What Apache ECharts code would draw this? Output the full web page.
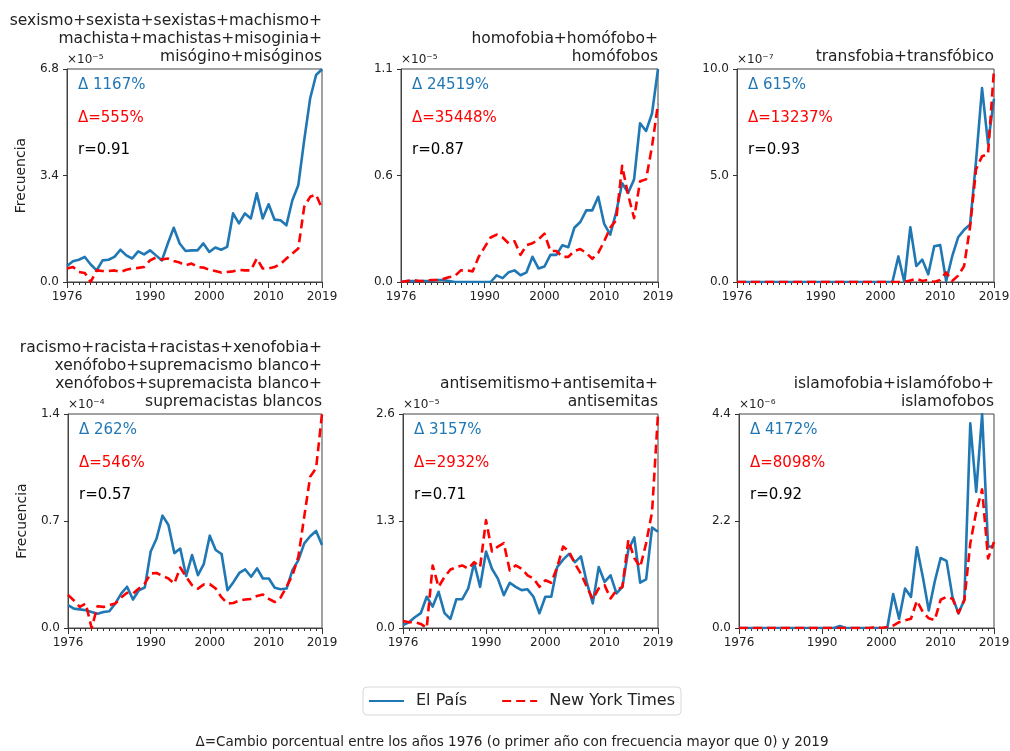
<!DOCTYPE html>
<html>
<head>
<meta charset="utf-8">
<title>Frecuencia El País / New York Times</title>
<script src="https://cdn.jsdelivr.net/npm/echarts@6/dist/echarts.min.js"></script>
<style>
  html, body { margin: 0; padding: 0; background: #fff; }
  #chart { width: 1010px; height: 751px; }
</style>
</head>
<body>
<div id="chart"></div>
<script>
const years = [1976, 1977, 1978, 1979, 1980, 1981, 1982, 1983, 1984, 1985,
  1986, 1987, 1988, 1989, 1990, 1991, 1992, 1993, 1994, 1995,
  1996, 1997, 1998, 1999, 2000, 2001, 2002, 2003, 2004, 2005,
  2006, 2007, 2008, 2009, 2010, 2011, 2012, 2013, 2014, 2015,
  2016, 2017, 2018, 2019];
const yearLabels = [1976, 1990, 2000, 2010, 2019];

// sexismo... (x1e-5)
const sexismoPais = [0.51, 0.66, 0.71, 0.80, 0.56, 0.37, 0.69, 0.71, 0.80, 1.03,
  0.85, 0.75, 0.98, 0.88, 1.01, 0.85, 0.69, 1.23, 1.73, 1.23,
  0.99, 1.01, 1.01, 1.23, 0.96, 1.10, 1.03, 1.12, 2.19, 1.87,
  2.19, 2.03, 2.83, 2.03, 2.48, 1.99, 1.97, 1.81, 2.61, 3.09,
  4.53, 5.86, 6.61, 6.79];
const sexismoNyt = [0.43, 0.48, 0.32, 0.29, 0.0, 0.37, 0.35, 0.35, 0.37, 0.32,
  0.39, 0.43, 0.45, 0.48, 0.69, 0.78, 0.72, 0.75, 0.67, 0.62,
  0.53, 0.59, 0.48, 0.46, 0.39, 0.35, 0.30, 0.32, 0.34, 0.39,
  0.37, 0.37, 0.75, 0.43, 0.43, 0.48, 0.57, 0.75, 0.91, 1.07,
  2.40, 2.72, 2.79, 2.35];

// homofobia... (x1e-5)
const homofobiaPais = [0.0, 0.005, 0.005, 0.005, 0.005, 0.005, 0.01, 0.01, 0.005, 0.0,
  0.0, 0.0, 0.0, 0.0, 0.0, 0.0, 0.034, 0.02, 0.05, 0.06,
  0.035, 0.05, 0.13, 0.07, 0.08, 0.14, 0.14, 0.19, 0.18, 0.28,
  0.31, 0.37, 0.37, 0.44, 0.30, 0.245, 0.36, 0.51, 0.46, 0.53,
  0.82, 0.78, 0.87, 1.10];
const homofobiaNyt = [0.0, 0.005, 0.01, 0.005, 0.005, 0.01, 0.01, 0.015, 0.025, 0.03,
  0.06, 0.06, 0.055, 0.13, 0.18, 0.23, 0.245, 0.23, 0.20, 0.21,
  0.14, 0.19, 0.20, 0.22, 0.25, 0.16, 0.16, 0.13, 0.13, 0.16,
  0.17, 0.15, 0.12, 0.15, 0.21, 0.28, 0.32, 0.60, 0.45, 0.33,
  0.52, 0.53, 0.70, 0.92];

// transfobia... (x1e-7)
const transfobiaPais = [0, 0, 0, 0, 0, 0, 0, 0, 0, 0,
  0, 0, 0, 0, 0, 0, 0, 0, 0, 0,
  0, 0, 0, 0, 0, 0, 0, 1.2, 0.0, 2.57,
  0.75, 1.05, 0.36, 1.68, 1.73, 0.05, 1.2, 2.1, 2.45, 2.7,
  5.7, 9.1, 6.5, 8.6];
const transfobiaNyt = [0, 0, 0, 0, 0, 0, 0, 0, 0, 0,
  0, 0, 0, 0, 0, 0, 0, 0, 0, 0,
  0, 0, 0, 0, 0, 0, 0, 0, 0, 0.075,
  0.15, 0.05, 0.1, 0.0, 0.1, 0.45, 0.05, 0.3, 0.75, 2.6,
  5.3, 5.9, 6.0, 10.0];

// racismo... (x1e-4)
const racismoPais = [0.15, 0.127, 0.122, 0.116, 0.105, 0.094, 0.105, 0.11, 0.16, 0.225,
  0.27, 0.186, 0.247, 0.265, 0.50, 0.586, 0.735, 0.674, 0.49, 0.52,
  0.34, 0.477, 0.346, 0.42, 0.604, 0.51, 0.484, 0.247, 0.30, 0.36,
  0.383, 0.335, 0.39, 0.324, 0.324, 0.263, 0.254, 0.258, 0.378, 0.444,
  0.554, 0.60, 0.635, 0.543];
const racismoNyt = [0.217, 0.18, 0.138, 0.16, 0.0, 0.142, 0.138, 0.15, 0.16, 0.20,
  0.23, 0.225, 0.258, 0.29, 0.357, 0.36, 0.34, 0.324, 0.29, 0.396,
  0.335, 0.28, 0.258, 0.285, 0.287, 0.258, 0.20, 0.16, 0.164, 0.18,
  0.186, 0.19, 0.21, 0.219, 0.19, 0.17, 0.20, 0.27, 0.346, 0.466,
  0.73, 0.99, 1.045, 1.40];

// antisemitismo... (x1e-5)
const antisemitismoPais = [0.036, 0.07, 0.13, 0.18, 0.38, 0.26, 0.44, 0.18, 0.11, 0.35,
  0.35, 0.48, 0.79, 0.50, 0.93, 0.72, 0.60, 0.40, 0.55, 0.50,
  0.46, 0.47, 0.38, 0.18, 0.38, 0.38, 0.74, 0.83, 0.90, 0.80,
  0.87, 0.55, 0.30, 0.74, 0.56, 0.64, 0.42, 0.50, 0.95, 1.10,
  0.55, 0.59, 1.22, 1.17];
const antisemitismoNyt = [0.086, 0.07, 0.07, 0.05, 0.0, 0.76, 0.50, 0.62, 0.71, 0.74,
  0.76, 0.72, 0.80, 0.74, 1.31, 0.93, 0.99, 1.03, 0.70, 0.76,
  0.72, 0.64, 0.60, 0.50, 0.58, 0.55, 0.74, 0.99, 0.93, 0.78,
  0.66, 0.50, 0.35, 0.48, 0.52, 0.36, 0.46, 0.50, 1.07, 0.85,
  0.74, 1.03, 1.41, 2.60];

// islamofobia... (x1e-6)
const islamofobiaPais = [0, 0, 0, 0, 0, 0, 0, 0, 0, 0,
  0, 0, 0, 0, 0, 0, 0, 0.04, 0, 0,
  0, 0, 0, 0, 0, 0, 0.70, 0.19, 0.81, 0.64,
  1.66, 1.05, 0.36, 0.95, 1.44, 1.38, 0.64, 0.30, 0.58, 4.21,
  2.80, 4.40, 1.67, 1.68];
const islamofobiaNyt = [0, 0, 0, 0, 0, 0, 0, 0, 0, 0,
  0, 0, 0, 0, 0, 0, 0, 0, 0, 0,
  0, 0, 0, 0.022, 0.0, 0.02, 0.05, 0.12, 0.16, 0.19,
  0.56, 0.33, 0.20, 0.16, 0.58, 0.64, 0.60, 0.31, 0.57, 1.74,
  2.39, 2.85, 1.43, 1.77];

const titles = [
  'sexismo+sexista+sexistas+machismo+\nmachista+machistas+misoginia+\nmisógino+misóginos',
  'homofobia+homófobo+\nhomófobos',
  'transfobia+transfóbico',
  'racismo+racista+racistas+xenofobia+\nxenófobo+supremacismo blanco+\nxenófobos+supremacista blanco+\nsupremacistas blancos',
  'antisemitismo+antisemita+\nantisemitas',
  'islamofobia+islamófobo+\nislamofobos'
];
const yMax = [6.8, 1.1, 10.0, 1.4, 2.6, 4.4];
const yExp = ['×10⁻⁵', '×10⁻⁵', '×10⁻⁷', '×10⁻⁴', '×10⁻⁵', '×10⁻⁶'];
const deltaPais = ['Δ 1167%', 'Δ 24519%', 'Δ 615%', 'Δ 262%', 'Δ 3157%', 'Δ 4172%'];
const deltaNyt = ['Δ=555%', 'Δ=35448%', 'Δ=13237%', 'Δ=546%', 'Δ=2932%', 'Δ=8098%'];
const corr = ['r=0.91', 'r=0.87', 'r=0.93', 'r=0.57', 'r=0.71', 'r=0.92'];

const paisSeries = [sexismoPais, homofobiaPais, transfobiaPais, racismoPais, antisemitismoPais, islamofobiaPais];
const nytSeries = [sexismoNyt, homofobiaNyt, transfobiaNyt, racismoNyt, antisemitismoNyt, islamofobiaNyt];

const FONT = 'DejaVu Sans';
const BLUE = '#1f77b4';
const RED = '#ff0000';
const TXT = '#222';

// posiciones de los 6 paneles
const grids = [
  {left: 67, top: 69, width: 255, height: 213},
  {left: 401, top: 69, width: 257, height: 213},
  {left: 737, top: 69, width: 257, height: 213},
  {left: 68, top: 414, width: 254, height: 214},
  {left: 403, top: 414, width: 255, height: 214},
  {left: 739, top: 414, width: 255, height: 214}
];

const chart = echarts.init(document.getElementById('chart'));

let option = {
  animation: false,
  backgroundColor: '#fff',
  grid: [],
  xAxis: [],
  yAxis: [],
  series: [],
  graphic: [],
  legend: {
    data: ['El País', 'New York Times'],
    left: 363,
    top: 687,
    padding: [6, 6, 6, 5],
    itemGap: 34,
    itemWidth: 35,
    itemHeight: 14,
    borderColor: '#d8d8d8',
    borderWidth: 1,
    borderRadius: 4,
    selectedMode: false,
    itemStyle: {opacity: 0, borderWidth: 0}, // sin el circulito del simbolo
    textStyle: {fontFamily: FONT, fontSize: 16, color: TXT, padding: [0, 0, 0, 7]}
  }
};

grids.forEach((g, i) => {
  option.grid.push({
    left: g.left, top: g.top, width: g.width, height: g.height,
    show: true, borderColor: '#444', borderWidth: 1,
    outerBoundsMode: 'none', containLabel: false
  });
  // eje x: un tick por año, etiquetas solo en algunos
  option.xAxis.push({
    type: 'value', gridIndex: i, position: 'bottom',
    min: 1976, max: 2019, interval: 1,
    axisLine: {show: true, onZero: false, lineStyle: {color: '#444', width: 1}},
    axisTick: {show: true, length: 3, customValues: years, lineStyle: {color: '#333'}},
    axisLabel: {
      customValues: yearLabels, margin: 9, color: TXT,
      fontFamily: FONT, fontSize: 12, formatter: v => String(v)
    },
    splitLine: {show: false}
  });
  // ticks largos de los años etiquetados
  option.xAxis.push({
    type: 'value', gridIndex: i, position: 'bottom',
    min: 1976, max: 2019, interval: 1,
    axisLine: {show: false, onZero: false},
    axisTick: {show: true, length: 6, customValues: yearLabels, lineStyle: {color: '#333'}},
    axisLabel: {show: false},
    splitLine: {show: false}
  });
  option.yAxis.push({
    type: 'value', gridIndex: i,
    min: 0, max: yMax[i], interval: yMax[i] / 2,
    name: i % 3 === 0 ? 'Frecuencia' : '',
    nameLocation: 'middle', nameGap: 39,
    nameTextStyle: {fontFamily: FONT, fontSize: 14, color: TXT},
    axisLine: {show: true, lineStyle: {color: '#444', width: 1}},
    axisTick: {show: true, length: 4, lineStyle: {color: '#333'}},
    axisLabel: {margin: 8, color: TXT, fontFamily: FONT, fontSize: 12, formatter: v => v.toFixed(1)},
    splitLine: {show: false}
  });

  option.series.push({
    type: 'line', name: 'El País', xAxisIndex: 2 * i, yAxisIndex: i,
    data: years.map((y, k) => [y, paisSeries[i][k]]),
    symbol: 'none', showSymbol: false, silent: true, z: 2,
    lineStyle: {color: BLUE, width: 2.6, join: 'round'},
    itemStyle: {color: BLUE}
  });
  option.series.push({
    type: 'line', name: 'New York Times', xAxisIndex: 2 * i, yAxisIndex: i,
    data: years.map((y, k) => [y, nytSeries[i][k]]),
    symbol: 'none', showSymbol: false, silent: true, z: 3,
    lineStyle: {color: RED, width: 2.6, type: [9, 5], join: 'round'},
    itemStyle: {color: RED}
  });

  // titulo, exponente y anotaciones
  option.graphic.push({
    type: 'text', x: g.left + g.width, y: g.top - 3, silent: true,
    style: {text: titles[i], fill: TXT, fontFamily: FONT, fontSize: 15.5, lineHeight: 18,
      textAlign: 'right', align: 'right', textVerticalAlign: 'bottom', verticalAlign: 'bottom'}
  });
  option.graphic.push({
    type: 'text', x: g.left, y: g.top - 3, silent: true,
    style: {text: yExp[i], fill: TXT, fontFamily: FONT, fontSize: 12,
      textAlign: 'left', align: 'left', textVerticalAlign: 'bottom', verticalAlign: 'bottom'}
  });
  [[deltaPais[i], BLUE, 16], [deltaNyt[i], RED, 49], [corr[i], '#000', 81]].forEach(a => {
    option.graphic.push({
      type: 'text', x: g.left + 11, y: g.top + a[2], silent: true,
      style: {text: a[0], fill: a[1], fontFamily: FONT, fontSize: 15,
        textAlign: 'left', align: 'left', textVerticalAlign: 'middle', verticalAlign: 'middle'}
    });
  });
});

option.graphic.push({
  type: 'text', x: 512, y: 742, silent: true,
  style: {text: 'Δ=Cambio porcentual entre los años 1976 (o primer año con frecuencia mayor que 0) y 2019',
    fill: TXT, fontFamily: FONT, fontSize: 13.5,
    textAlign: 'center', align: 'center', textVerticalAlign: 'middle', verticalAlign: 'middle'}
});

chart.setOption(option, true);
</script>
</body>
</html>
